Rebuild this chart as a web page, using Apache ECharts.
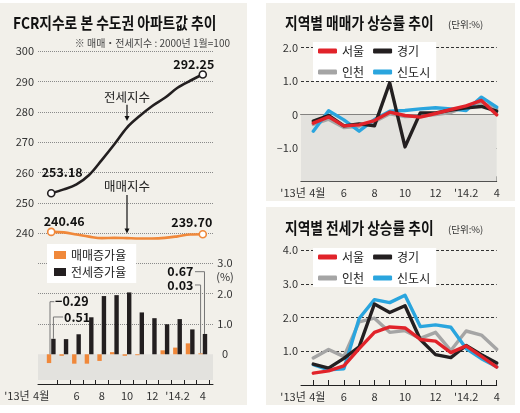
<!DOCTYPE html>
<html><head><meta charset="utf-8">
<script src="https://cdn.jsdelivr.net/npm/echarts@6/dist/echarts.min.js"></script>
<style>
html,body{margin:0;padding:0;background:#fff}
.p{position:absolute;background:#f2f0ea}
#c{position:absolute;left:0;top:0;width:520px;height:413px}
</style>
</head><body>
<div class="p" style="left:0;top:3px;width:247px;height:402px"></div>
<div class="p" style="left:266px;top:3px;width:249px;height:198px"></div>
<div class="p" style="left:266px;top:207px;width:249px;height:198px"></div>
<div id="c"></div>
<script>
// ---- data ----
const months = ["'13.4","5","6","7","8","9","10","11","12","'14.1","2","3","4"];
const tickLabels = ["'13년 4월","","6","","8","","10","","12","","'14.2","","4"];
const jeonseIndex = [253.18,254.45,256.1,259.2,264.1,269.3,274.8,278.6,281.9,284.6,287.9,290.2,292.25];
const saleIndex = [240.46,240.3,239.6,238.9,238.4,238.5,238.4,238.3,238.3,238.5,239.0,239.6,239.70];
const saleRate = [-0.29,-0.05,-0.31,-0.31,-0.22,0.07,-0.05,-0.03,0,0.13,0.22,0.36,0.03];
const jeonseRate = [0.51,0.5,0.66,1.22,1.92,1.95,2.04,1.38,1.19,0.99,1.16,0.82,0.67];
const saleSeoul = [-0.26,-0.07,-0.34,-0.31,-0.18,0.07,-0.03,-0.08,0.03,0.15,0.26,0.42,-0.01];
const saleGyeonggi = [-0.2,-0.03,-0.34,-0.28,-0.34,0.95,-0.97,0.05,0.05,0.13,0.2,0.24,0.1];
const saleIncheon = [-0.3,-0.14,-0.39,-0.35,-0.22,0.02,-0.06,-0.05,0.0,0.06,0.25,0.36,0.17];
const saleNewTown = [-0.5,0.11,-0.16,-0.5,-0.15,0.1,0.12,0.17,0.2,0.17,0.12,0.52,0.22];
const jeonseSeoul = [0.35,0.42,0.57,1.08,1.56,1.72,1.69,1.35,1.3,0.96,1.16,0.85,0.53];
const jeonseGyeonggi = [0.62,0.5,0.79,1.13,2.4,2.15,2.35,1.35,0.9,0.81,1.17,0.9,0.65];
const jeonseIncheon = [0.8,1.05,0.84,1.87,1.98,1.56,1.61,1.38,1.56,1.02,1.6,1.48,1.06];
const jeonseNewTown = [0.6,0.45,0.48,1.97,2.53,2.44,2.66,1.73,1.78,1.71,1.08,0.78,0.54];
const regionNames = ['서울','경기','인천','신도시'];

// ---- styles ----
const FONT = "'Liberation Sans Narrow','Noto Sans CJK KR','Noto Sans',sans-serif";
const KFONT = "'Noto Sans CJK KR','Noto Sans',sans-serif";
const ORANGE='#f0883a', BLACK='#231f20', RED='#e1232a', GRAY='#a5a5a5', BLUE='#2aa5de', SHADE='#e3e2de';

const G = [
  {left:38, top:51, width:175, height:182.3},
  {left:44.9, top:51, width:164.2, height:182.3},
  {left:38, top:263.3, width:175, height:121.3},
  {left:44.9, top:263.3, width:164.2, height:121.3},
  {left:301, top:47.7, width:195.7, height:133.6},
  {left:313.3, top:47.7, width:183.4, height:133.6},
  {left:301, top:250, width:195.7, height:135},
  {left:313.3, top:250, width:183.4, height:135}
].map(g => Object.assign({outerBoundsMode:'none', containLabel:false}, g));

const none = {show:false};
function xlabFmt(leftW, bW, rightW){
  return {
    interval:0, fontSize:11, color:'#333', fontFamily:FONT,
    formatter:(v,i)=>{
      const t = tickLabels[i];
      if (t.indexOf(' ')>0){ const [a,b]=t.split(' '); return '{a|'+a+' }{b|'+b+'}{c|}'; }
      return t;
    },
    rich:{a:{width:leftW, align:'right', fontSize:11, fontFamily:FONT, color:'#333'},
          b:{width:bW, align:'center', fontSize:11, fontFamily:FONT, color:'#333'},
          c:{width:rightW}}
  };
}
const hiddenCat = (gi, bg) => ({gridIndex:gi, type:'category', data:months, boundaryGap:bg, show:false});

const xAxis = [
  hiddenCat(0,true),
  hiddenCat(1,true),
  {gridIndex:2, type:'category', data:months, axisLine:{show:true, onZero:false, lineStyle:{color:'#222', width:1}}, axisTick:none, axisLabel:none},
  {gridIndex:3, type:'category', data:months, boundaryGap:true,
    axisLine:{show:false, onZero:false},
    axisTick:{show:true, inside:true, length:5, lineStyle:{color:'#222'}, interval:(i)=>i>0},
    axisLabel:Object.assign(xlabFmt(30,16,50),{margin:6})},
  {gridIndex:4, type:'category', data:months, position:'top', axisLine:{show:true, onZero:true, lineStyle:{color:'#222', width:1.2}}, axisTick:none, axisLabel:none},
  {gridIndex:5, type:'category', data:months, boundaryGap:false,
    axisLine:{show:false, onZero:false},
    axisTick:{show:true, inside:true, length:5, lineStyle:{color:'#222'}},
    axisLabel:Object.assign(xlabFmt(30,16,22),{margin:6})},
  {gridIndex:6, type:'category', data:months, axisLine:{show:true, onZero:true, lineStyle:{color:'#222', width:1}}, axisTick:none, axisLabel:none},
  {gridIndex:7, type:'category', data:months, boundaryGap:false,
    axisLine:{show:false, onZero:false},
    axisTick:{show:true, inside:true, length:5, lineStyle:{color:'#222'}},
    axisLabel:Object.assign(xlabFmt(30,16,22),{margin:6})},
  {gridIndex:4, type:'category', data:months, position:'bottom', axisLine:{show:true, onZero:false, lineStyle:{color:'#222', width:1}}, axisTick:none, axisLabel:none}
];

const yLab = {fontSize:11, color:'#333', fontFamily:FONT};
const yAxis = [
  {gridIndex:0, type:'value', min:240, max:300, interval:10, axisLine:none, axisTick:none,
   axisLabel:Object.assign({margin:4}, yLab),
   splitLine:{lineStyle:{type:'dotted', color:'#8a8a8a', width:1}}},
  {gridIndex:1, type:'value', min:240, max:300, show:false},
  {gridIndex:2, type:'value', min:-1, max:3, interval:1, position:'right', axisLine:none, axisTick:none,
   axisLabel:Object.assign({margin:12, align:'center', formatter:v=> v<0?'':(v===0?'0':v.toFixed(1))}, yLab),
   splitLine:{lineStyle:{type:'dotted', color:['rgba(0,0,0,0)','rgba(0,0,0,0)','#8a8a8a','#8a8a8a','#8a8a8a'], width:1}}},
  {gridIndex:3, type:'value', min:-1, max:3, show:false},
  {gridIndex:4, type:'value', min:-2, max:2, interval:1, axisLine:none, axisTick:none,
   axisLabel:Object.assign({margin:3, formatter:v=> v===-2?'':(v===0?'0':(v<0?'–'+Math.abs(v).toFixed(1):v.toFixed(1)))}, yLab),
   splitLine:{lineStyle:{type:[3,2], color:['rgba(0,0,0,0)','#333','rgba(0,0,0,0)','#333','#333'], width:1}}},
  {gridIndex:5, type:'value', min:-2, max:2, show:false},
  {gridIndex:6, type:'value', min:0, max:4, interval:1, axisLine:none, axisTick:none,
   axisLabel:Object.assign({margin:3, formatter:v=> v===0?'':v.toFixed(1)}, yLab),
   splitLine:{lineStyle:{type:[3,2], color:['rgba(0,0,0,0)','#333','#333','#333','#333'], width:1}}},
  {gridIndex:7, type:'value', min:0, max:4, show:false}
];

const nulls = months.map(()=>null);
const endSym = (v,p)=> (p.dataIndex===0||p.dataIndex===months.length-1)?7:0;
function idxLine(name, data, color){
  return {name, type:'line', xAxisIndex:1, yAxisIndex:1, data, smooth:0.35, clip:false, z:4,
    symbol:'circle', symbolSize:endSym, showSymbol:true,
    lineStyle:{color, width:2.6}, itemStyle:{color:'#fff', borderColor:color, borderWidth:1.6}, silent:true};
}
function regLine(name, data, color, xi){
  return {name, type:'line', xAxisIndex:xi, yAxisIndex:xi, data, color, symbol:'none',
    lineStyle:{color, width:3.4, cap:'round', join:'round'}, silent:true};
}
const series = [
  {type:'line', xAxisIndex:2, yAxisIndex:2, data:nulls, silent:true,
   markArea:{silent:true, itemStyle:{color:SHADE}, data:[[{yAxis:0},{yAxis:-0.85}]]}},
  {type:'line', xAxisIndex:4, yAxisIndex:4, data:nulls, silent:true,
   markArea:{silent:true, itemStyle:{color:SHADE}, data:[[{yAxis:0},{yAxis:-2}]]}},
  idxLine('매매지수', saleIndex, ORANGE),
  idxLine('전세지수', jeonseIndex, BLACK),
  {name:'매매증가율', type:'bar', xAxisIndex:3, yAxisIndex:3, data:saleRate, color:ORANGE, barWidth:4.4, barGap:'0%', silent:true},
  {name:'전세증가율', type:'bar', xAxisIndex:3, yAxisIndex:3, data:jeonseRate, color:BLACK, barWidth:4.4, barGap:'0%', silent:true},
  regLine('인천', saleIncheon, GRAY, 5),
  regLine('신도시', saleNewTown, BLUE, 5),
  regLine('경기', saleGyeonggi, BLACK, 5),
  regLine('서울', saleSeoul, RED, 5),
  regLine('인천', jeonseIncheon, GRAY, 7),
  regLine('신도시', jeonseNewTown, BLUE, 7),
  regLine('경기', jeonseGyeonggi, BLACK, 7),
  regLine('서울', jeonseSeoul, RED, 7)
];

const legTxt = {fontSize:12, color:'#222', fontFamily:KFONT};
const legend = [
  {data:['매매증가율','전세증가율'], orient:'vertical', left:47, top:244, backgroundColor:'#fff',
   padding:[5,10,5,7], itemWidth:12, itemHeight:8, itemGap:5, icon:'rect', selectedMode:false, textStyle:legTxt},
  {data:regionNames, left:313, top:42, width:120, backgroundColor:'#fff', padding:[3,6,3,5],
   itemWidth:19, itemHeight:5, itemGap:9, icon:'roundRect', selectedMode:false, textStyle:legTxt},
  {data:regionNames, left:313, top:248, width:120, backgroundColor:'#fff', padding:[3,6,3,5],
   itemWidth:19, itemHeight:5, itemGap:9, icon:'roundRect', selectedMode:false, textStyle:legTxt}
];

function txt(text, x, y, o){
  o = o || {};
  return {type:'text', x, y, scaleX:o.sx||1, z:10, silent:true,
    style:{text, fill:o.color||'#111', font:(o.weight||'normal')+' '+(o.size||12)+'px '+(o.family||FONT),
      textAlign:o.align||'left', align:o.align||'left', textVerticalAlign:'middle', verticalAlign:'middle'}};
}
const titles = [
  txt('FCR지수로 본 수도권 아파트값 추이', 13, 23, {weight:'bold', size:16, family:KFONT, sx:0.86}),
  txt('※ 매매・전세지수 : 2000년 1월=100', 230, 43, {size:10, family:KFONT, color:'#444', align:'right'}),
  txt('지역별 매매가 상승률 추이', 285, 22.5, {weight:'bold', size:16, family:KFONT, sx:0.86}),
  txt('(단위:%)', 448, 24, {size:9.5, family:KFONT, color:'#333'}),
  txt('지역별 전세가 상승률 추이', 285, 227.5, {weight:'bold', size:16, family:KFONT, sx:0.86}),
  txt('(단위:%)', 448, 229, {size:9.5, family:KFONT, color:'#333'})
];

const option = {animation:false, backgroundColor:'transparent', grid:G, xAxis, yAxis, series, legend, graphic:titles};
const chart = echarts.init(document.getElementById('c'));
chart.setOption(option);

// ---- annotations positioned through the axes ----
const P = (i, x, y) => chart.convertToPixel({xAxisIndex:i, yAxisIndex:i}, [x, y]);
const fmt = v => (v<0?'−':'') + Math.abs(v).toFixed(2);
const last = months.length-1;
const bw = 4.4;
const lead = {stroke:'#777', lineWidth:1, fill:null};
function poly(pts){ return {type:'polyline', z:10, silent:true, shape:{points:pts}, style:lead}; }
function arrow(x, y1, y2){
  return [
    {type:'line', z:10, silent:true, shape:{x1:x, y1:y1, x2:x, y2:y2-4}, style:{stroke:'#111', lineWidth:1.2}},
    {type:'polygon', z:10, silent:true, shape:{points:[[x-2.5,y2-5],[x+2.5,y2-5],[x,y2]]}, style:{fill:'#111'}}
  ];
}
const ann = [];
const pj0 = P(1,0,jeonseIndex[0]), pj1 = P(1,last,jeonseIndex[last]);
const ps0 = P(1,0,saleIndex[0]), ps1 = P(1,last,saleIndex[last]);
const B = {weight:'bold', size:12.5};
ann.push(txt(fmt(jeonseIndex[last]), pj1[0]-9, pj1[1]-10, Object.assign({align:'center'},B)));
ann.push(txt(fmt(jeonseIndex[0]), pj0[0]+11, pj0[1]-21, Object.assign({align:'center'},B)));
ann.push(txt(fmt(saleIndex[0]), ps0[0]+13, ps0[1]-11, Object.assign({align:'center'},B)));
ann.push(txt(fmt(saleIndex[last]), ps1[0]-11, ps1[1]-12, Object.assign({align:'center'},B)));
const lj = P(1, 5.77, 284.9);
ann.push(txt('전세지수', lj[0], lj[1], {size:12.5, family:KFONT, align:'center', color:'#222'}));
const aj1 = P(1, 5.95, 282.3), aj2 = P(1, 5.95, 277);
ann.push(...arrow(aj1[0], aj1[1], aj2[1]));
const ls = P(1, 5.9, 255.6);
ann.push(txt('매매지수', ls[0], ls[1], {size:12.5, family:KFONT, align:'center', color:'#222'}));
const as1 = P(1, 5.93, 252.6), as2 = P(1, 5.93, 239.9);
ann.push(...arrow(as1[0], as1[1], as2[1]));

// bar leaders
const z0 = P(3,0,0)[1];
const c0 = P(3,0,0)[0], cL = P(3,last,0)[0];
const o0 = c0-bw/2, k0 = c0+bw/2, oL = cL-bw/2, kL = cL+bw/2;
let y;
y = z0-52.6;
ann.push(poly([[o0+1, z0], [o0+1, y], [o0+5.3, y]]));
ann.push(txt(fmt(saleRate[0]), o0+6, y, B));
y = z0-37.3;
ann.push(poly([[k0, P(3,0,jeonseRate[0])[1]], [k0, y], [k0+9.7, y]]));
ann.push(txt(fmt(jeonseRate[0]), k0+10.6, y, B));
y = z0-82.6;
ann.push(poly([[kL-10, y], [kL-0.5, y], [kL-0.5, P(3,last,jeonseRate[last])[1]]]));
ann.push(txt(fmt(jeonseRate[last]), kL-11.5, y, Object.assign({align:'right'},B)));
y = z0-69.3;
ann.push(poly([[kL-10, y], [oL, y], [oL, P(3,last,saleRate[last])[1]]]));
ann.push(txt(fmt(saleRate[last]), kL-11.5, y, Object.assign({align:'right'},B)));
// (%) under right-axis label 3.0
ann.push(txt('(%)', G[2].left+G[2].width+12, P(3,0,3)[1]+13.5, {size:11, align:'center', color:'#333'}));

chart.setOption({graphic: titles.concat(ann)});
</script>
</body></html>
